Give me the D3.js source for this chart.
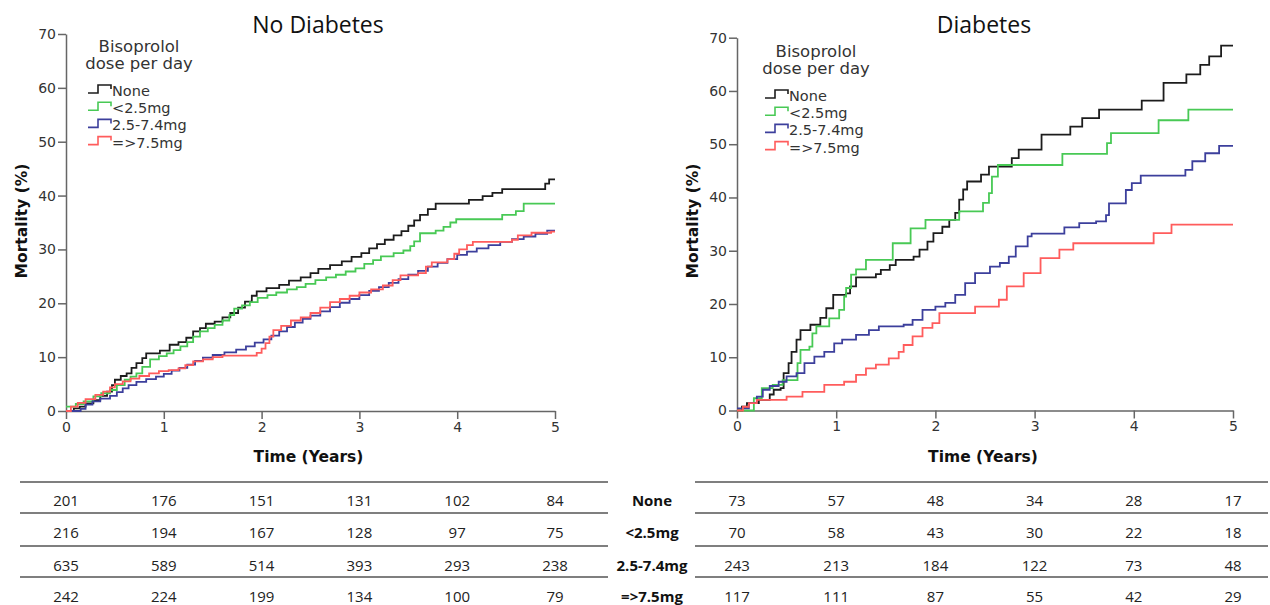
<!DOCTYPE html>
<html>
<head>
<meta charset="utf-8">
<script src="https://cdn.jsdelivr.net/npm/d3@7"></script>
<style>
  body { margin: 0; background: #fff; }
  svg { display: block; }
  .tick text { font-family: "DejaVu Sans", sans-serif; fill: #333; }
</style>
</head>
<body>
<script>
// series names
var groups = ["None", "<2.5mg", "2.5-7.4mg", "=>7.5mg"];
var groupColors = ["#1c1c1c", "#48c955", "#3c3f9c", "#ff5c5c"];
var yearTicks = [0, 1, 2, 3, 4, 5];
var mortTicks = [0, 10, 20, 30, 40, 50, 60, 70];

// No Diabetes, [years, mortality %] after each step
var ndNone = [[0,0],[0.08,0.5],[0.14,0.8],[0.2,1.4],[0.28,2],[0.35,2.8],[0.42,3.6],[0.47,4.8],[0.5,5.8],[0.56,6.5],[0.62,7],[0.67,8],[0.72,8.9],[0.78,9.8],[0.82,10.7],[0.96,11.2],[1.06,12.3],[1.15,12.8],[1.23,13.6],[1.3,14.8],[1.37,15.4],[1.43,16.2],[1.52,16.6],[1.6,17.4],[1.68,18.2],[1.76,19.2],[1.83,20.3],[1.9,21.4],[1.95,22.2],[2.05,22.8],[2.18,23.4],[2.28,24.2],[2.4,24.8],[2.5,25.6],[2.58,26.4],[2.7,27.1],[2.82,27.8],[2.92,28.6],[3.02,29.3],[3.1,30.2],[3.18,31],[3.26,31.8],[3.35,32.6],[3.43,33.4],[3.5,34.4],[3.56,35.4],[3.62,36.4],[3.7,37.5],[3.78,38.5],[4.12,39.2],[4.26,39.9],[4.36,40.5],[4.46,41.2],[4.9,42.2],[4.94,43],[5,43]];
var ndLow = [[0,0.8],[0.1,1.3],[0.18,1.8],[0.28,2.7],[0.36,3.3],[0.45,3.9],[0.52,4.8],[0.6,5.8],[0.66,6.4],[0.72,7],[0.78,8.2],[0.86,9.6],[0.95,10.2],[1.03,10.7],[1.1,11.3],[1.17,12],[1.24,12.8],[1.3,13.8],[1.37,14.8],[1.45,15.4],[1.52,16],[1.6,16.8],[1.67,17.8],[1.72,19],[1.8,19.6],[1.88,20.2],[1.96,21],[2.06,21.5],[2.15,22],[2.26,22.6],[2.36,23],[2.45,23.6],[2.55,24.3],[2.66,24.8],[2.76,25.3],[2.86,25.9],[2.96,26.5],[3.05,27.3],[3.14,28],[3.22,28.7],[3.35,29.3],[3.45,29.8],[3.52,30.6],[3.56,31.5],[3.62,33],[3.78,33.5],[3.86,34.2],[3.93,35],[3.99,35.6],[4.46,36.4],[4.6,37.1],[4.68,38.5],[5,38.5]];
var ndMid = [[0,0],[0.15,0.4],[0.2,1.2],[0.27,1.8],[0.35,2.3],[0.45,2.8],[0.52,3.5],[0.58,4.2],[0.64,4.8],[0.72,5.4],[0.82,5.9],[0.92,6.4],[1,6.9],[1.08,7.5],[1.16,8],[1.24,8.6],[1.32,9.3],[1.4,9.9],[1.5,10.4],[1.62,10.9],[1.74,11.4],[1.84,12],[1.93,12.7],[2.02,13.3],[2.1,14],[2.18,14.8],[2.26,15.6],[2.34,16.4],[2.42,17.1],[2.5,17.7],[2.6,18.5],[2.7,19.3],[2.8,20.1],[2.9,20.8],[3,21.5],[3.1,22.3],[3.2,23],[3.3,23.8],[3.4,24.5],[3.5,25.3],[3.6,26],[3.7,26.8],[3.8,27.5],[3.9,28.2],[4,29],[4.1,29.6],[4.2,30.2],[4.32,30.8],[4.44,31.4],[4.56,31.9],[4.68,32.4],[4.8,32.9],[4.92,33.5],[5,33.5]];
var ndHigh = [[0,0],[0.05,0.8],[0.12,1.5],[0.2,2.2],[0.3,3],[0.38,3.6],[0.45,4.4],[0.5,5],[0.58,5.5],[0.66,6],[0.75,6.5],[0.85,7],[0.95,7.4],[1.05,7.6],[1.15,7.9],[1.22,8.5],[1.3,9.2],[1.4,9.6],[1.5,10],[1.6,10.3],[1.95,10.8],[2,11.6],[2.04,12.6],[2.08,13.8],[2.12,15],[2.2,15.8],[2.3,16.8],[2.4,17.4],[2.5,18.2],[2.6,19.2],[2.7,20.2],[2.8,20.8],[2.9,21.4],[3,22],[3.12,22.6],[3.24,23.3],[3.34,24.3],[3.42,25.2],[3.6,25.6],[3.68,26.8],[3.74,27.6],[3.9,28.2],[3.97,29.2],[4.02,30],[4.1,30.8],[4.16,31.4],[4.56,31.8],[4.62,32.6],[4.76,33.1],[4.96,33.3],[5,33.3]];

// Diabetes
var dNone = [[0,0],[0.05,0.7],[0.1,1.4],[0.22,2],[0.33,3],[0.37,3.9],[0.44,4.2],[0.47,7],[0.52,8.9],[0.55,11],[0.6,13.3],[0.64,15.1],[0.74,16.1],[0.84,17.4],[0.9,19.2],[0.97,21.7],[1.1,22],[1.14,23.3],[1.2,25],[1.4,25.6],[1.45,26.4],[1.54,27.3],[1.6,28.3],[1.78,28.9],[1.84,30.2],[1.92,31.7],[1.98,33.3],[2.07,34.5],[2.14,35.8],[2.2,37.1],[2.24,39.6],[2.28,41.5],[2.32,43],[2.46,44.3],[2.54,45.8],[2.77,47.4],[2.84,49],[3.07,51.8],[3.36,53.3],[3.48,54.9],[3.65,56.5],[4.08,58.2],[4.3,61.5],[4.53,63.1],[4.67,64.9],[4.76,66.5],[4.88,68.5],[5,68.5]];
var dLow = [[0,0],[0.13,0],[0.17,2.3],[0.25,4.2],[0.36,4.8],[0.46,5.7],[0.61,8.9],[0.64,11.4],[0.73,12],[0.76,14.5],[0.8,15.8],[0.93,17.3],[1.03,18.9],[1.08,21.4],[1.1,23],[1.15,25.5],[1.2,26.5],[1.3,28.3],[1.57,31.4],[1.75,34.2],[1.9,35.8],[2.24,37.4],[2.48,39],[2.54,40.8],[2.57,43.9],[2.63,46.1],[3.28,48.2],[3.73,50.2],[3.77,52.1],[4.25,54.5],[4.55,56.5],[5,56.5]];
var dMid = [[0,0.4],[0.12,1.4],[0.2,2.6],[0.26,3.9],[0.33,4.6],[0.42,5.4],[0.5,6.4],[0.6,7],[0.68,8.9],[0.78,10.1],[0.88,11],[0.98,12.6],[1.06,13.3],[1.2,14.2],[1.33,15.1],[1.43,15.8],[1.68,16.1],[1.77,17],[1.87,18.9],[2,19.5],[2.1,20.2],[2.2,21.7],[2.3,23.9],[2.4,25.8],[2.55,27],[2.65,27.7],[2.74,28.9],[2.81,30.8],[2.93,32.7],[2.97,33.2],[3.3,34.4],[3.45,35.2],[3.62,35.5],[3.72,36.7],[3.75,38.9],[3.92,41.4],[3.98,42.7],[4.07,44.1],[4.52,45.2],[4.59,46.8],[4.72,48.3],[4.86,49.7],[5,49.7]];
var dHigh = [[0,0],[0.06,0.7],[0.12,1.4],[0.2,2],[0.5,2.6],[0.66,3.5],[0.88,4.8],[1.08,5.4],[1.2,6.7],[1.3,7.9],[1.4,8.6],[1.53,9.8],[1.63,11],[1.68,12.3],[1.77,13.9],[1.87,15.5],[1.97,16.4],[2.04,18.3],[2.4,19.5],[2.64,20.8],[2.72,23.3],[2.89,25.8],[3.06,28.6],[3.25,30.2],[3.39,31.4],[4.2,33.3],[4.38,34.9],[5,34.9]];

// numbers at risk, one row per group, one column per year
var ndRiskNone = [201, 176, 151, 131, 102, 84];
var ndRiskLow = [216, 194, 167, 128, 97, 75];
var ndRiskMid = [635, 589, 514, 393, 293, 238];
var ndRiskHigh = [242, 224, 199, 134, 100, 79];
var dRiskNone = [73, 57, 48, 34, 28, 17];
var dRiskLow = [70, 58, 43, 30, 22, 18];
var dRiskMid = [243, 213, 184, 122, 73, 48];
var dRiskHigh = [117, 111, 87, 55, 42, 29];

var svg = d3.select("body").append("svg")
    .attr("width", 1270)
    .attr("height", 605);

function drawPanel(p) {
    var x = d3.scaleLinear().domain([0, 5]).range([p.x0, p.x1]);
    var y = d3.scaleLinear().domain([0, 70]).range([p.y0, p.y1]);
    var g = svg.append("g");

    g.append("text")
        .attr("x", p.titleX).attr("y", 33)
        .attr("text-anchor", "middle")
        .style("font-family", "'Open Sans', sans-serif")
        .style("font-size", "23px")
        .style("fill", "#111")
        .text(p.title);

    var yAx = g.append("g")
        .attr("transform", "translate(" + p.x0 + ",0)")
        .call(d3.axisLeft(y).tickValues(mortTicks).tickFormat(d3.format("d"))
            .tickSize(8).tickSizeOuter(0).tickPadding(2));
    var xAx = g.append("g")
        .attr("transform", "translate(0," + p.y0 + ")")
        .call(d3.axisBottom(x).tickValues(yearTicks).tickFormat(d3.format("d"))
            .tickSize(8).tickSizeOuter(0).tickPadding(3));
    [yAx, xAx].forEach(function(a) {
        a.selectAll("path, line").attr("stroke", "#666").attr("stroke-width", 1.5);
        a.selectAll("text").style("font-size", "14px");
    });

    g.append("text")
        .attr("x", (p.x0 + p.x1) / 2 - 2).attr("y", 462)
        .attr("text-anchor", "middle")
        .style("font-family", "'DejaVu Sans', sans-serif")
        .style("font-weight", "bold")
        .style("font-size", "15.5px")
        .style("fill", "#111")
        .text("Time (Years)");

    g.append("text")
        .attr("transform", "translate(" + (p.x0 - 39) + ",221) rotate(-90)")
        .attr("text-anchor", "middle")
        .style("font-family", "'DejaVu Sans', sans-serif")
        .style("font-weight", "bold")
        .style("font-size", "15.5px")
        .style("fill", "#111")
        .text("Mortality (%)");

    var line = d3.line()
        .x(function(d) { return x(d[0]); })
        .y(function(d) { return y(d[1]); })
        .curve(d3.curveStepAfter);

    p.series.forEach(function(s, i) {
        g.append("path")
            .datum(s)
            .attr("fill", "none")
            .attr("stroke", groupColors[i])
            .attr("stroke-width", 1.8)
            .attr("d", line);
    });

    // legend
    var lg = g.append("g").attr("transform", "translate(" + p.legX + "," + p.legY + ")");
    ["Bisoprolol", "dose per day"].forEach(function(t, i) {
        lg.append("text")
            .attr("x", 51).attr("y", i * 17)
            .attr("text-anchor", "middle")
            .style("font-family", "'DejaVu Sans', sans-serif")
            .style("font-size", "16.5px")
            .style("fill", "#333")
            .text(t);
    });
    groups.forEach(function(name, i) {
        var ly = 40 + i * 17.2;
        lg.append("path")
            .attr("d", "M0," + (ly + 1) + "H10V" + (ly - 7) + "H23V" + (ly - 3))
            .attr("fill", "none")
            .attr("stroke", groupColors[i])
            .attr("stroke-width", 1.6);
        lg.append("text")
            .attr("x", 24).attr("y", ly + 4)
            .style("font-family", "'DejaVu Sans', sans-serif")
            .style("font-size", "14.5px")
            .style("fill", "#333")
            .text(name);
    });

    // numbers at risk table
    var lineYs = [482, 513, 546, 577];
    lineYs.forEach(function(ly) {
        g.append("line")
            .attr("x1", p.tabX0).attr("x2", p.tabX1)
            .attr("y1", ly).attr("y2", ly)
            .attr("stroke", "#555").attr("stroke-width", 1.6);
    });
    var rowYs = [501, 533, 566, 597];
    p.risk.forEach(function(row, r) {
        g.selectAll(null)
            .data(row)
            .enter()
            .append("text")
            .attr("x", function(d, c) { return x(yearTicks[c]); })
            .attr("y", rowYs[r] + 5)
            .attr("text-anchor", "middle")
            .style("font-family", "'Open Sans', sans-serif")
            .style("font-size", "15px")
            .style("fill", "#222")
            .text(function(d) { return d; });
    });
}

drawPanel({
    title: "No Diabetes", titleX: 318,
    x0: 66, x1: 555, y0: 411, y1: 34,
    series: [ndNone, ndLow, ndMid, ndHigh],
    legX: 88, legY: 52,
    risk: [ndRiskNone, ndRiskLow, ndRiskMid, ndRiskHigh],
    tabX0: 20, tabX1: 608
});

drawPanel({
    title: "Diabetes", titleX: 984,
    x0: 737, x1: 1233, y0: 410.5, y1: 37.7,
    series: [dNone, dLow, dMid, dHigh],
    legX: 765, legY: 57,
    risk: [dRiskNone, dRiskLow, dRiskMid, dRiskHigh],
    tabX0: 695, tabX1: 1268
});

// row labels between the two tables
var rowLabelYs = [501, 533, 566, 597];
svg.selectAll(".rowlab")
    .data(groups)
    .enter()
    .append("text")
    .attr("class", "rowlab")
    .attr("x", 652)
    .attr("y", function(d, i) { return rowLabelYs[i] + 5; })
    .attr("text-anchor", "middle")
    .style("font-family", "'Open Sans', sans-serif")
    .style("font-weight", "bold")
    .style("font-size", "15px")
    .style("fill", "#111")
    .text(function(d) { return d; });
</script>
</body>
</html>
